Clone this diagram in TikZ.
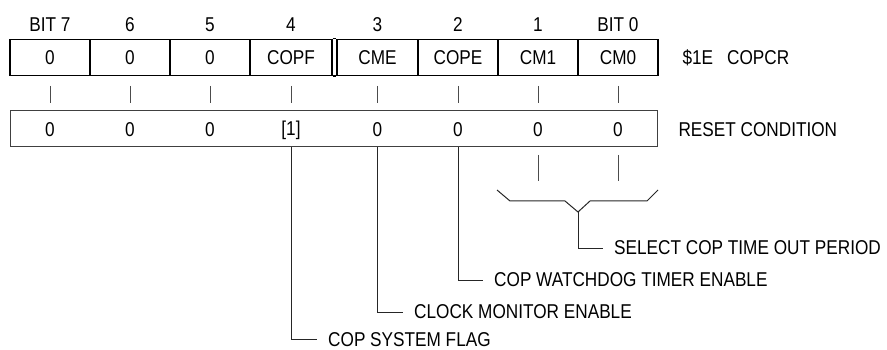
\documentclass[tikz,border=0pt]{standalone}
\usepackage{fontspec}
\setmainfont[FakeStretch=0.86]{Liberation Sans}

\begin{document}
\begin{tikzpicture}[x=1pt, y=-1pt, font=\fontsize{20}{23}\selectfont,
	cell/.style={draw, line width=1.8pt, minimum width=80pt, minimum height=36pt, inner sep=0pt},
	tick/.style={draw=black!70, line width=0.9pt},
	lead/.style={draw=black!85, line width=1pt},
	desc/.style={anchor=west, inner xsep=11pt, inner ysep=0pt}]

		\useasboundingbox (0,0) rectangle (887,350);

		\node (b7) at (50,25) {BIT 7};
		\node (b6) at (130,25) {6};
		\node (b5) at (210,25) {5};
		\node (b4) at (291,25) {4};
		\node (b3) at (377.5,25) {3};
		\node (b2) at (458,25) {2};
		\node (b1) at (538,25) {1};
		\node (b0) at (618,25) {BIT 0};

		\node[cell] (c7) at (50,57.5) {0};
		\node[cell] (c6) at (130,57.5) {0};
		\node[cell] (c5) at (210,57.5) {0};
		\node[cell, minimum width=82pt] (c4) at (291,57.5) {COPF};
		\node[cell, minimum width=81pt] (c3) at (377.5,57.5) {CME};
		\node[cell] (c2) at (458,57.5) {COPE};
		\node[cell] (c1) at (538,57.5) {CM1};
		\node[cell] (c0) at (618,57.5) {CM0};
		\draw[line width=1.8pt] (c4.north east) -- (c3.north west);
		\draw[line width=1.8pt] (c4.south east) -- (c3.south west);

		\node[anchor=west] (reg) at (679,57.5) {\$1E\hspace{14pt}COPCR};

		\node[draw=black!75, line width=1pt, minimum width=647pt, minimum height=36pt] (rst) at (333.5,129) {};
		\node (r7) at (50,130) {0};
		\node (r6) at (130,130) {0};
		\node (r5) at (210,130) {0};
		\node (r4) at (291,130) {[1]};
		\node (r3) at (377.5,130) {0};
		\node (r2) at (458,130) {0};
		\node (r1) at (538,130) {0};
		\node (r0) at (618,130) {0};

		\node[anchor=west] (rc) at (675,130) {RESET CONDITION};

		\draw[tick] ([yshift=-9.5pt]c7.south) -- ([yshift=-26.5pt]c7.south);
		\draw[tick] ([yshift=-9.5pt]c6.south) -- ([yshift=-26.5pt]c6.south);
		\draw[tick] ([yshift=-9.5pt]c5.south) -- ([yshift=-26.5pt]c5.south);
		\draw[tick] ([yshift=-9.5pt]c4.south) -- ([yshift=-26.5pt]c4.south);
		\draw[tick] ([yshift=-9.5pt]c3.south) -- ([yshift=-26.5pt]c3.south);
		\draw[tick] ([yshift=-9.5pt]c2.south) -- ([yshift=-26.5pt]c2.south);
		\draw[tick] ([yshift=-9.5pt]c1.south) -- ([yshift=-26.5pt]c1.south);
		\draw[tick] ([yshift=-9.5pt]c0.south) -- ([yshift=-26.5pt]c0.south);

		\draw[tick] ([yshift=-25pt]r1.center) -- ([yshift=-51pt]r1.center);
		\draw[tick] ([yshift=-25pt]r0.center) -- ([yshift=-51pt]r0.center);

		\coordinate (fork) at (578,212);
		\draw[lead] (497,190) -- (510,201) -- (565,201) -- (fork) -- (590,201) -- (647,201) -- (658,190);

		\node[desc] (sel) at (603,248) {SELECT COP TIME OUT PERIOD};
		\node[desc] (wd) at (483,280) {COP WATCHDOG TIMER ENABLE};
		\node[desc] (cme) at (403,312) {CLOCK MONITOR ENABLE};
		\node[desc] (flag) at (317,339.5) {COP SYSTEM FLAG};

		\draw[lead] (fork) |- (sel.west);
		\draw[lead] (r2 |- rst.south) |- (wd.west);
		\draw[lead] (r3 |- rst.south) |- (cme.west);
		\draw[lead] (r4 |- rst.south) |- (flag.west);

	\end{tikzpicture}
\end{document}
